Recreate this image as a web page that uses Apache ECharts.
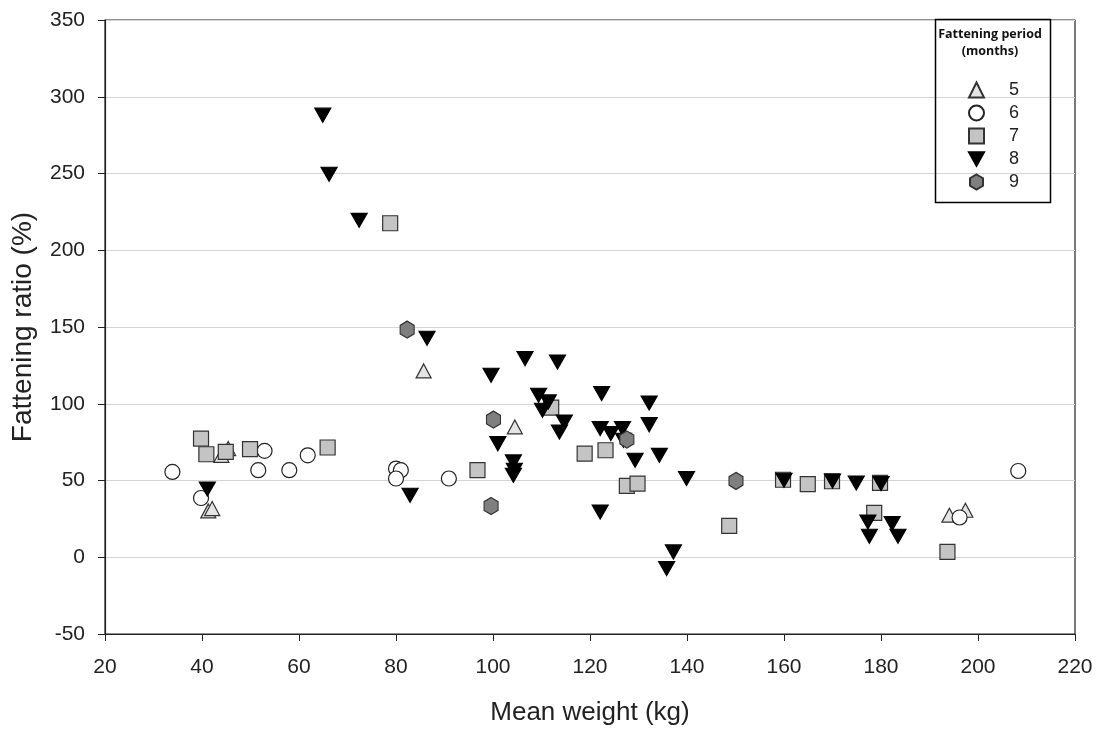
<!DOCTYPE html>
<html>
<head>
<meta charset="utf-8">
<script src="https://cdn.jsdelivr.net/npm/echarts@6/dist/echarts.min.js"></script>
<style>
  html, body { margin: 0; padding: 0; background: #fff; }
  #chart { width: 1100px; height: 733px; }
</style>
</head>
<body>
<div id="chart"></div>
<script>
// [mean weight (kg), fattening ratio (%)] per fattening period
const period5 = [[45.4, 70.8], [44.0, 66.4], [41.3, 30.2], [42.1, 31.7], [85.7, 121.4], [104.5, 84.9], [194.1, 27.4], [197.4, 30.6]]
const period6 = [[33.9, 55.6], [39.8, 38.6], [52.9, 69.3], [51.6, 56.7], [58.0, 56.7], [61.8, 66.4], [80.0, 57.8], [81.0, 56.7], [80.0, 51.3], [90.9, 51.3], [196.2, 25.9], [208.3, 56.2]]
const period7 = [[78.8, 217.6], [39.8, 77.3], [40.9, 67.1], [44.9, 68.6], [49.9, 70.4], [65.9, 71.5], [112.0, 97.5], [96.8, 56.7], [118.9, 67.5], [123.2, 69.7], [127.6, 46.5], [129.8, 48], [159.8, 50.5], [164.9, 47.6], [169.9, 49.5], [179.8, 48.5], [178.6, 28.9], [148.7, 20.4], [193.7, 3.5]]
const period8 = [[64.9, 288], [66.2, 249.5], [72.4, 219.5], [86.4, 142.7], [82.9, 40.4], [41.1, 44.5], [106.6, 129.4], [113.3, 127.2], [99.6, 118.6], [122.4, 106.6], [132.2, 100.5], [109.4, 105.5], [111.4, 101.2], [110.2, 95.8], [114.7, 88.1], [113.7, 81.6], [122.1, 83.8], [124.3, 80.6], [126.7, 83.8], [126.9, 76.2], [132.2, 86.4], [101.0, 74], [129.3, 63.2], [134.3, 66.4], [104.2, 62.1], [104.4, 56.7], [104.2, 53.4], [122.1, 29.5], [139.9, 51.3], [137.2, 3.5], [135.8, -7.4], [160.0, 50.2], [170.0, 49.7], [174.9, 48.4], [180.0, 48], [177.3, 23], [177.6, 13.7], [182.3, 22], [183.5, 13.7]]
const period9 = [[82.3, 148.3], [100.1, 89.7], [99.6, 33.4], [127.6, 76.7], [150.1, 49.7]]

const periodNames = ['5', '6', '7', '8', '9']
const xTicks = {min: 20, max: 220, interval: 20}
const yTicks = {min: -50, max: 350, interval: 50}

const hexagon = 'path://M0,-10 L8.66,-5 L8.66,5 L0,10 L-8.66,5 L-8.66,-5 Z'
const downTriangle = 'path://M0,0 L10,0 L5,9 Z'
const labelFont = 'Liberation Sans, Arial, sans-serif'

const chart = echarts.init(document.getElementById('chart'))

function scatter (name, data, symbol, size, fill, border, rotate) {
  return {
    name: name,
    type: 'scatter',
    data: data,
    symbol: symbol,
    symbolSize: size,
    symbolRotate: rotate || 0,
    itemStyle: {color: fill, borderColor: border, borderWidth: 1.2, opacity: 1}
  }
}

const option = {
  animation: false,
  backgroundColor: '#fff',
  grid: {left: 105, right: 25, top: 20, bottom: 99, show: true, borderColor: '#222', borderWidth: 1.2},
  xAxis: {
    type: 'value',
    min: xTicks.min,
    max: xTicks.max,
    interval: xTicks.interval,
    name: 'Mean weight (kg)',
    nameLocation: 'middle',
    nameGap: 66,
    nameTextStyle: {fontSize: 26, color: '#222', fontFamily: labelFont},
    axisLine: {show: true, onZero: false, lineStyle: {color: '#222', width: 1.2}},
    axisTick: {show: true, length: 7, lineStyle: {color: '#222'}},
    axisLabel: {fontSize: 21, color: '#222', fontFamily: labelFont, margin: 23},
    splitLine: {show: false}
  },
  yAxis: {
    type: 'value',
    min: yTicks.min,
    max: yTicks.max,
    interval: yTicks.interval,
    name: 'Fattening ratio (%)',
    nameLocation: 'middle',
    nameGap: 68,
    nameTextStyle: {fontSize: 28, color: '#222', fontFamily: labelFont},
    axisLine: {show: true, lineStyle: {color: '#222', width: 1.2}},
    axisTick: {show: true, length: 7, lineStyle: {color: '#222'}},
    axisLabel: {fontSize: 21, color: '#222', fontFamily: labelFont, margin: 20},
    splitLine: {show: true, lineStyle: {color: '#d4d4d4', width: 1}}
  },
  legend: {
    orient: 'vertical',
    left: 963,
    top: 76,
    itemWidth: 15,
    itemHeight: 15,
    itemGap: 5,
    data: periodNames.map(n => n === '8' ? {name: n, icon: downTriangle} : n),
    textStyle: {fontSize: 18, color: '#222', fontFamily: labelFont, padding: [0, 0, 0, 20]}
  },
  graphic: [
    {
      type: 'rect',
      left: 933,
      top: 17,
      shape: {width: 115, height: 183},
      style: {fill: 'none', stroke: '#000', lineWidth: 1.5},
      z: 10
    },
    {
      type: 'text',
      x: 990,
      y: 26,
      style: {
        text: 'Fattening period\n(months)',
        fontSize: 12.5,
        fontWeight: 'bold',
        fontFamily: 'Open Sans, Liberation Sans, sans-serif',
        fill: '#111',
        textAlign: 'center',
        lineHeight: 17
      },
      z: 10
    }
  ],
  series: [
    scatter('5', period5, 'triangle', [15, 14], '#e4e4e4', '#333'),
    scatter('6', period6, 'circle', 15, '#ffffff', '#222'),
    scatter('7', period7, 'rect', 15, '#c4c4c4', '#333'),
    scatter('8', period8, 'triangle', [16, 14], '#000000', '#000', 180),
    scatter('9', period9, hexagon, [14, 17], '#7f7f7f', '#333')
  ]
}

chart.setOption(option)
</script>
</body>
</html>
